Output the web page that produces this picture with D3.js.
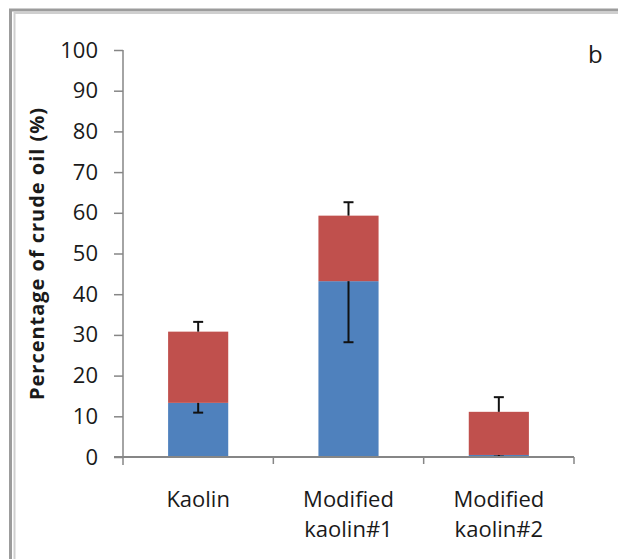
<!DOCTYPE html>
<html>
<head>
<meta charset="utf-8">
<script src="https://cdn.jsdelivr.net/npm/d3@7"></script>
<style>
    body{margin:0;background:#fff;}
    text{font-family:"Open Sans",sans-serif;fill:#1a1a1a;}
</style>
</head>
<body>
<div id="canvas-1" style="width:618px;height:559px;"></div>
<script>
/* data */
var categories = ["Kaolin", "Modified\nkaolin#1", "Modified\nkaolin#2"];
var blueValues = [13.3, 43.2, 0.5];
var redValues = [17.5, 16.1, 10.6];
var blueErrMinus = [2.4, 15.0, 0.4];
var redErrPlus = [2.4, 3.3, 3.6];
var yTicks = [0, 10, 20, 30, 40, 50, 60, 70, 80, 90, 100];

var canvasWidth = document.getElementById('canvas-1').clientWidth,
    canvasHeight = document.getElementById('canvas-1').clientHeight;

var svg = d3.select('#canvas-1')
    .append("svg")
    .attr("width", canvasWidth)
    .attr("height", canvasHeight);

// frame around the chart (only left and top show in the picture)
svg.append("path")
    .attr("d", "M10.5,559 V10 H618")
    .style("fill", "none")
    .style("stroke", "#9c9c9c")
    .style("stroke-width", 3);
svg.append("path")
    .attr("d", "M14.5,559 V13 H618")
    .style("fill", "none")
    .style("stroke", "#cfcfcf")
    .style("stroke-width", 2);

var x = d3.scaleBand()
    .domain(categories)
    .range([123, 574])
    .paddingInner(0.6)
    .paddingOuter(0.3);

var y = d3.scaleLinear()
    .domain([0, 100])
    .range([457, 50]);

// stacked table
var rows = categories.map(function(c, i){
    return {cat: c, blue: blueValues[i], red: redValues[i], bm: blueErrMinus[i], rp: redErrPlus[i]};
});
var stack = d3.stack().keys(["blue", "red"])(rows);
var colors = {blue: "#4f81bd", red: "#c0504d"};

var plot = svg.append("g");

stack.forEach(function(layer){
    plot.selectAll(null)
        .data(layer)
        .enter()
        .append("rect")
        .attr("x", function(d){ return x(d.data.cat); })
        .attr("y", function(d){ return y(d[1]); })
        .attr("width", x.bandwidth())
        .attr("height", function(d){ return y(d[0]) - y(d[1]); })
        .style("fill", colors[layer.key]);
});

// error bars: blue goes down from blue top, red goes up from red top
var capHalf = 5;
rows.forEach(function(d){
    var cx = x(d.cat) + x.bandwidth() / 2;
    var bTop = d.blue, bLow = d.blue - d.bm;
    var rTop = d.blue + d.red, rHigh = rTop + d.rp;

    var errs = [[bTop, bLow], [rTop, rHigh]];
    errs.forEach(function(e){
        plot.append("line")
            .attr("x1", cx).attr("x2", cx)
            .attr("y1", y(e[0])).attr("y2", y(e[1]))
            .style("stroke", "#111").style("stroke-width", 2);
        plot.append("line")
            .attr("x1", cx - capHalf).attr("x2", cx + capHalf)
            .attr("y1", y(e[1])).attr("y2", y(e[1]))
            .style("stroke", "#111").style("stroke-width", 2);
    });
});

// y axis
var yAxis = svg.append("g")
    .attr("transform", "translate(123,0)")
    .call(d3.axisLeft(y).tickValues(yTicks).tickSize(9).tickPadding(16));
yAxis.select(".domain").style("stroke", "#868686").style("stroke-width", 1.5).attr("d", "M0,50 V465");
yAxis.selectAll(".tick line").style("stroke", "#868686").style("stroke-width", 1.5);
yAxis.selectAll(".tick text")
    .style("font-size", "22px")
    .style("font-family", "Open Sans")
    .style("fill", "#1a1a1a");

// x axis line and ticks at category boundaries
var xAxis = svg.append("g");
xAxis.append("line")
    .attr("x1", 114).attr("x2", 574)
    .attr("y1", y(0)).attr("y2", y(0))
    .style("stroke", "#868686").style("stroke-width", 2);
var step = x.step();
[1, 2, 3].forEach(function(k){
    xAxis.append("line")
        .attr("x1", 123 + k * step).attr("x2", 123 + k * step)
        .attr("y1", y(0)).attr("y2", y(0) + 7)
        .style("stroke", "#868686").style("stroke-width", 1.5);
});

// category labels, two lines where needed
categories.forEach(function(c){
    var t = xAxis.append("text")
        .attr("x", x(c) + x.bandwidth() / 2)
        .attr("y", 507)
        .attr("text-anchor", "middle")
        .style("font-size", "22px");
    c.split("\n").forEach(function(part, i){
        t.append("tspan")
            .attr("x", x(c) + x.bandwidth() / 2)
            .attr("dy", i == 0 ? 0 : 30)
            .text(part);
    });
});

// axis title
svg.append("text")
    .attr("transform", "translate(44,254) rotate(-90)")
    .attr("text-anchor", "middle")
    .attr("textLength", 292)
    .style("font-size", "20px")
    .style("font-weight", "bold")
    .text("Percentage of crude oil (%)");

// panel letter
svg.append("text")
    .attr("x", 588)
    .attr("y", 63)
    .style("font-size", "24px")
    .text("b");
</script>
</body>
</html>
